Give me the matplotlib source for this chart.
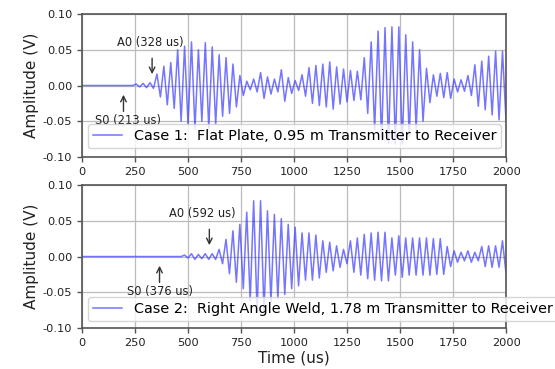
"""Lamb wave traces for two plate geometries, stacked with shared styling."""

import matplotlib

matplotlib.use("Agg")

import matplotlib.pyplot as plt
import numpy as np

LINE_COLOR = "#3a3aff"
FRAME_COLOR = "#555555"
GRID_COLOR = "#bcbcbc"
TEXT_COLOR = "#222222"

# peak amplitude of each carrier cycle (V), one entry per cycle
CASE1_START = 255.0  # us, first listed cycle
CASE1_PERIOD = 32.6  # us
CASE1_PEAKS = [
    0.002, 0.003, 0.004, 0.016, 0.027, 0.032, 0.050, 0.055, 0.061, 0.050,
    0.060, 0.054, 0.043, 0.039, 0.030, 0.014, 0.006, 0.009, 0.018, 0.012,
    0.009, 0.022, 0.011, 0.007, 0.015, 0.025, 0.028, 0.030, 0.033, 0.026,
    0.023, 0.021, 0.020, 0.039, 0.061, 0.076, 0.081, 0.082, 0.082, 0.071,
    0.061, 0.050, 0.024, 0.015, 0.017, 0.018, 0.009, 0.008, 0.014, 0.029,
    0.034, 0.041, 0.048, 0.048,
]

CASE2_START = 483.0
CASE2_PERIOD = 32.6
CASE2_PEAKS = [
    0.002, 0.004, 0.003, 0.004, 0.004, 0.010, 0.024, 0.036, 0.045, 0.062,
    0.078, 0.078, 0.064, 0.059, 0.053, 0.045, 0.041, 0.033, 0.033, 0.030,
    0.022, 0.020, 0.015, 0.010, 0.022, 0.026, 0.031, 0.033, 0.034, 0.034,
    0.026, 0.029, 0.026, 0.026, 0.026, 0.026, 0.025, 0.025, 0.014, 0.008,
    0.006, 0.008, 0.006, 0.014, 0.015, 0.015, 0.022,
]

LABELS = [
    "Case 1:  Flat Plate, 0.95 m Transmitter to Receiver",
    "Case 2:  Right Angle Weld, 1.78 m Transmitter to Receiver",
]

# (label, arrow x in us, text x in us)
CASE1_MARKS = [("A0 (328 us)", 330, 321), ("S0 (213 us)", 195, 214)]
CASE2_MARKS = [("A0 (592 us)", 600, 568), ("S0 (376 us)", 365, 368)]


def _trace(start, period, peaks):
    peaks = np.asarray(peaks)
    tops = start + period * np.arange(len(peaks))
    t = np.column_stack([tops, tops + period / 2]).ravel()
    v = np.column_stack([peaks, -peaks]).ravel()
    t = np.concatenate([[0.0, start - period / 2], t])
    v = np.concatenate([[0.0, 0.0], v])
    return t, v


def _style_ax(ax):
    ax.set_xlim(0, 2000)
    ax.set_ylim(-0.1, 0.1)
    ax.set_xticks(np.arange(0, 2001, 250))
    ax.set_yticks([-0.10, -0.05, 0.0, 0.05, 0.10])
    ax.yaxis.set_major_formatter(matplotlib.ticker.FormatStrFormatter("%.2f"))
    ax.grid(True, color=GRID_COLOR, linewidth=0.9)
    ax.set_axisbelow(True)
    for spine in ax.spines.values():
        spine.set_color(FRAME_COLOR)
        spine.set_linewidth(1.2)
    ax.tick_params(colors=FRAME_COLOR, labelcolor=TEXT_COLOR, labelsize=8.2,
                   length=3.5, width=1)
    ax.set_ylabel("Amplitude (V)", fontsize=11, color=TEXT_COLOR, labelpad=3)


def _mark(ax, label, x_arrow, x_text, up):
    if up:
        ax.annotate("", xy=(x_arrow, -0.009), xytext=(x_arrow, -0.040),
                    arrowprops=dict(arrowstyle="->", color="#333333", lw=1))
        ax.text(x_text, -0.049, label, ha="center", va="center", fontsize=8.3,
                color=TEXT_COLOR)
    else:
        ax.annotate("", xy=(x_arrow, 0.012), xytext=(x_arrow, 0.042),
                    arrowprops=dict(arrowstyle="->", color="#333333", lw=1))
        ax.text(x_text, 0.060, label, ha="center", va="center", fontsize=8.3,
                color=TEXT_COLOR)


fig = plt.figure(figsize=(5.55, 3.69), dpi=100, facecolor="white")
ax1 = fig.add_axes([0.148, 0.5745, 0.764, 0.3875])
ax2 = fig.add_axes([0.148, 0.111, 0.764, 0.3875])

cases = [
    (ax1, _trace(CASE1_START, CASE1_PERIOD, CASE1_PEAKS), LABELS[0], CASE1_MARKS, 0.06),
    (ax2, _trace(CASE2_START, CASE2_PERIOD, CASE2_PEAKS), LABELS[1], CASE2_MARKS, 0.05),
]

for ax, (t, v), label, marks, leg_y in cases:
    _style_ax(ax)
    ax.plot(t, v, color=LINE_COLOR, linewidth=1.1, alpha=0.7, label=label)
    (a_lab, a_x, a_tx), (s_lab, s_x, s_tx) = marks
    _mark(ax, a_lab, a_x, a_tx, up=False)
    _mark(ax, s_lab, s_x, s_tx, up=True)
    ax.legend(loc="lower left", bbox_to_anchor=(0.014, leg_y), fontsize=10.4,
              borderaxespad=0, handlelength=2.0, framealpha=0.8,
              edgecolor="#cccccc", borderpad=0.35)

ax2.set_xlabel("Time (us)", fontsize=11, color=TEXT_COLOR, labelpad=2)

fig.savefig("out.png", dpi=100, facecolor="white")
